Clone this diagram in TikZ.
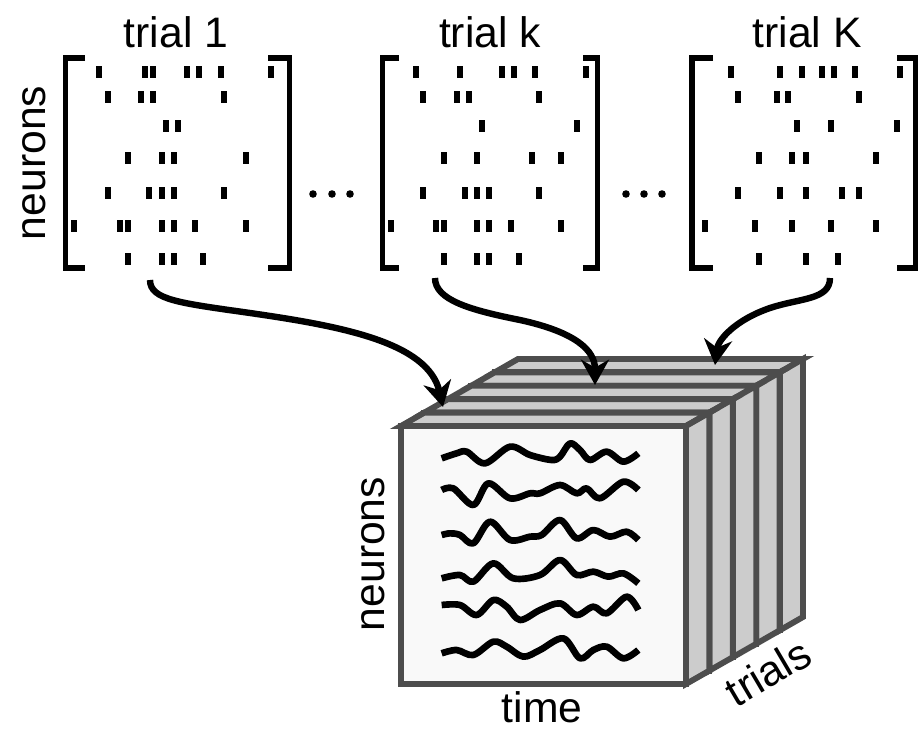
\documentclass[tikz,border=0pt]{standalone}
\usepackage{fontspec}
\setmainfont{Liberation Sans}
\usetikzlibrary{arrows.meta}
\definecolor{edgegray}{HTML}{4D4D4D}
\definecolor{slabgray}{HTML}{CCCCCC}
\definecolor{facegray}{HTML}{F9F9F9}
\tikzset{
  lbl/.style={inner sep=0pt, font=\fontsize{32}{38}\selectfont},
  brk/.style={line width=4.3pt, line join=miter, line cap=butt},
  spike/.style={fill=black},
  arr/.style={line width=4.8pt, -{Stealth[length=19pt,width=21pt,inset=6pt]}},
  slab/.style={draw=edgegray, fill=slabgray, line width=4.4pt, line join=miter},
  frontface/.style={draw=edgegray, fill=facegray, line width=4.4pt, line join=miter},
  wave/.style={line width=5pt, line cap=butt, line join=round},
}
\begin{document}
\begin{tikzpicture}[x=0.75pt,y=-0.75pt]
\useasboundingbox (0,0) rectangle (922,732);

% titles
\node[lbl, anchor=base] (t1) at (176,47) {trial 1};
\node[lbl, anchor=base] (tk) at (490,47) {trial k};
\node[lbl, anchor=base] (tK) at (807,47) {trial K};
\node[lbl, rotate=90] (yl) at (34,163) {neurons};

% brackets
\draw[brk] (85,58) -- (65.5,58) -- (65.5,268) -- (85,268);
\draw[brk] (268,58) -- (289.5,58) -- (289.5,268) -- (268,268);
\draw[brk] (399,58) -- (382.5,58) -- (382.5,268) -- (399,268);
\draw[brk] (583,58) -- (597.5,58) -- (597.5,268) -- (583,268);
\draw[brk] (713,58) -- (692,58) -- (692,268) -- (713,268);
\draw[brk] (897,58) -- (915.5,58) -- (915.5,268) -- (897,268);

% spikes
\foreach \r/\xs in {72/{99,145,153,187,199,221,271},97/{108,141,153,224},126/{166,178},158/{128,162,174,246},193/{108,149,162,174,224},226/{74,120,128,162,174,195,246},259/{128,162,174,203}}{
  \foreach \x in \xs {\fill[spike] (\x-2.6,\r-6.2) rectangle ++(5.2,12.4);}
}
\foreach \r/\xs in {72/{416,460,502,514,535,586},97/{423,457,469,539},126/{482,577},158/{444,477,532,561},193/{423,465,477,489,539},226/{391,436,444,477,489,511,561},259/{444,477,489,519}}{
  \foreach \x in \xs {\fill[spike] (\x-2.6,\r-6.2) rectangle ++(5.2,12.4);}
}
\foreach \r/\xs in {72/{731,780,802,822,834,855,900},97/{738,777,788,859},126/{797,831,897},158/{759,792,806,876},193/{738,780,806,842,859},226/{705,755,792,831,876},259/{759,806,838}}{
  \foreach \x in \xs {\fill[spike] (\x-2.6,\r-6.2) rectangle ++(5.2,12.4);}
}

% ellipsis dots
\foreach \x in {313,332,350,626,644,662}{\fill (\x,194) circle[radius=3.8];}

% cube of trials
\foreach \i in {4,3,2,1,0}{
  \begin{scope}[shift={(\i*23.4,-\i*13.4)}]
    \filldraw[slab] (401,426) -- (686,426) -- (709.4,412.6) -- (424.4,412.6) -- cycle;
    \filldraw[slab] (686,426) -- (686,684) -- (709.4,670.6) -- (709.4,412.6) -- cycle;
    \filldraw[frontface] (401,426) rectangle (686,684);
  \end{scope}
}

% wavy traces
\begin{scope}[xshift=270pt, yshift=-315pt, x=0.25pt, y=-0.25pt]
\draw[wave] plot[smooth, tension=0.55] coordinates {(245,115) (290,100) (320,95) (375,130) (450,80) (510,105) (575,120) (600,110) (630,70) (660,90) (690,120) (740,95) (790,125) (835,100)};
\draw[wave] plot[smooth, tension=0.55] coordinates {(245,210) (280,205) (340,255) (385,190) (450,235) (510,220) (540,220) (600,195) (650,220) (680,205) (720,235) (790,185) (835,210)};
\draw[wave] plot[smooth, tension=0.55] coordinates {(245,345) (270,340) (300,345) (340,370) (390,305) (450,360) (510,350) (545,345) (600,300) (650,355) (700,330) (750,350) (800,335) (835,360)};
\draw[wave] plot[smooth, tension=0.55] coordinates {(245,475) (300,465) (340,485) (400,430) (460,475) (540,465) (600,420) (650,465) (700,455) (745,470) (790,460) (835,490)};
\draw[wave] plot[smooth, tension=0.55] coordinates {(245,555) (300,555) (350,585) (400,540) (440,560) (480,600) (540,570) (600,550) (650,585) (700,560) (740,580) (800,530) (835,570)};
\draw[wave] plot[smooth, tension=0.55] coordinates {(245,700) (290,690) (340,705) (400,665) (440,680) (490,710) (540,690) (610,655) (660,715) (700,690) (740,680) (790,715) (835,690)};
\end{scope}

% axis labels of the cube
\node[lbl, rotate=90] (cn) at (373,554) {neurons};
\node[lbl, anchor=base] (ct) at (542,722) {time};
\node[lbl, rotate=30.5] (cr) at (768,672) {trials};

% arrows
\coordinate (s1) at (150,280);
\coordinate (sk) at (435,278);
\coordinate (sK) at (830,278);
\coordinate (e1) at (443,407);
\coordinate (ek) at (595,385);
\coordinate (eK) at (715,365);
\draw[arr] (s1) .. controls (150,300) and (180,303) .. (250,313) .. controls (340,326) and (428,342) .. (e1);
\draw[arr] (sk) .. controls (435,300) and (470,310) .. (520,320) .. controls (575,332) and (595,350) .. (ek);
\draw[arr] (sK) .. controls (830,300) and (800,298) .. (770,308) .. controls (735,320) and (718,340) .. (eK);
\end{tikzpicture}
\end{document}
